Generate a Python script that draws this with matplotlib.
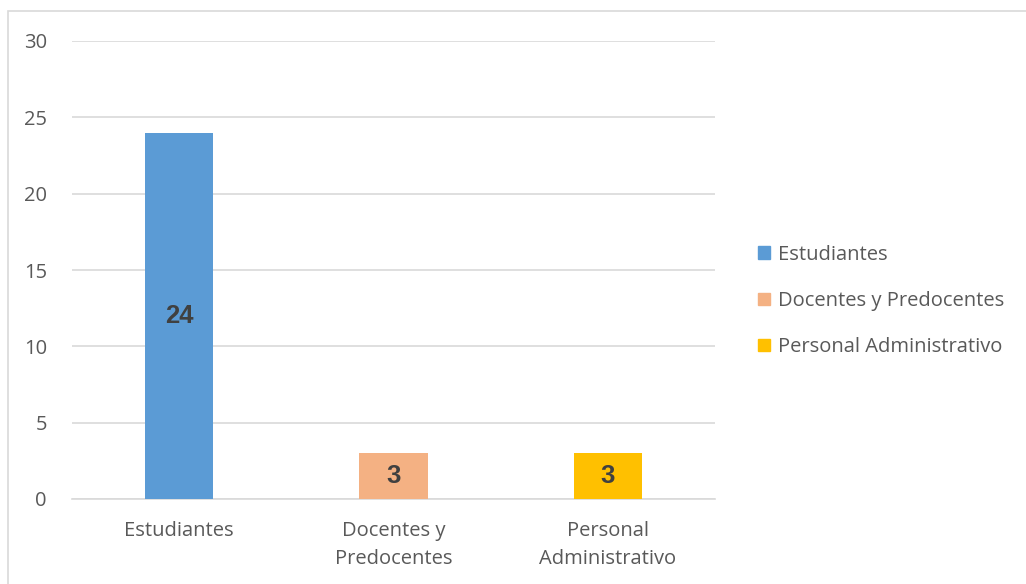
import matplotlib
matplotlib.use("Agg")
import matplotlib.pyplot as plt
from matplotlib.patches import Rectangle

categories = ["Estudiantes", "Docentes y\nPredocentes", "Personal\nAdministrativo"]
legend_labels = ["Estudiantes", "Docentes y Predocentes", "Personal Administrativo"]
values = [24, 3, 3]
colors = ["#5b9bd5", "#f4b183", "#ffc000"]
yticks = [0, 5, 10, 15, 20, 25, 30]

W, H = 1026, 584
fig = plt.figure(figsize=(W / 100, H / 100), dpi=100)
fig.patch.set_facecolor("white")

# outer border
fig.add_artist(Rectangle((8 / W, -0.05), 1.1, 1 - 11 / H + 0.05, transform=fig.transFigure,
                         fill=False, edgecolor="#d9d9d9", linewidth=1.2))

x0, x1 = 72, 715
y0, y1 = 499, 41
ax = fig.add_axes([x0 / W, 1 - y0 / H, (x1 - x0) / W, (y0 - y1) / H])
ax.set_xlim(-0.5, 2.5)
ax.set_ylim(0, 30)

font = "Open Sans"
fs = 14.5
bars = ax.bar(range(3), values, width=0.318, color=colors, zorder=3)
for i, (b, v) in enumerate(zip(bars, values)):
    ax.text(b.get_x() + b.get_width() / 2, v / 2, str(v), ha="center", va="center",
            fontsize=18.5, fontweight="bold", color="#404040", family="Liberation Sans", zorder=4)

ax.set_yticks(yticks)
ax.set_yticklabels([str(t) for t in yticks], family=font, fontsize=fs, color="#595959")
ax.set_xticks(range(3))
ax.set_xticklabels(categories, family=font, fontsize=fs, color="#595959", linespacing=1.5)
ax.tick_params(axis="both", length=0)
ax.tick_params(axis="y", pad=18)
ax.tick_params(axis="x", pad=16)
ax.grid(axis="y", color="#d9d9d9", linewidth=1.2, zorder=0)
for s in ["top", "right", "left"]:
    ax.spines[s].set_visible(False)
ax.spines["bottom"].set_color("#d9d9d9")
ax.spines["bottom"].set_linewidth(1.2)

handles = [Rectangle((0, 0), 1, 1, color=c) for c in colors]
leg = fig.legend(handles, legend_labels, loc="center left", bbox_to_anchor=(740 / W, 1 - 301 / H),
                 frameon=False, prop={"family": font, "size": fs}, handlelength=0.6, handleheight=0.6,
                 handletextpad=0.4, labelspacing=1.3)
for t in leg.get_texts():
    t.set_color("#595959")

fig.savefig("out.png", dpi=100)
